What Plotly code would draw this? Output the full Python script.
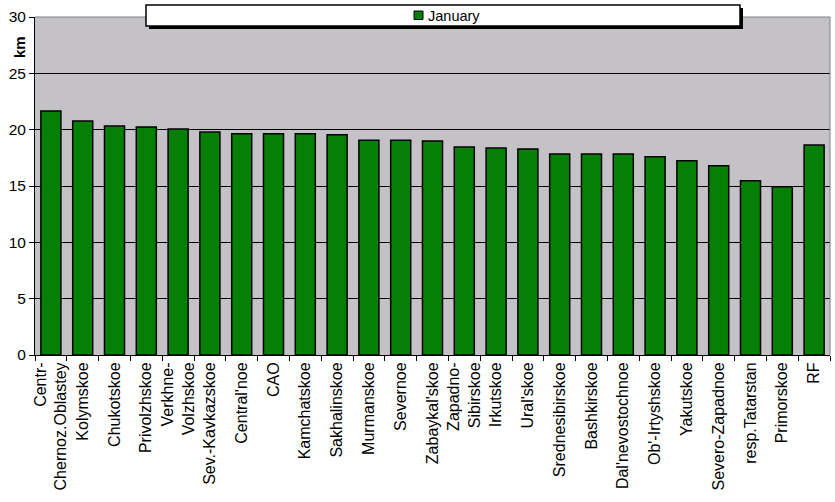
import plotly.graph_objects as go

categories = [
    "Centr-<br>Chernoz.Oblastey", "Kolymskoe", "Chukotskoe", "Privolzhskoe",
    "Verkhne-<br>Volzhskoe", "Sev.-Kavkazskoe", "Central'noe", "CAO",
    "Kamchatskoe", "Sakhalinskoe", "Murmanskoe", "Severnoe", "Zabaykal'skoe",
    "Zapadno-<br>Sibirskoe", "Irkutskoe", "Ural'skoe", "Srednesibirskoe",
    "Bashkirskoe", "Dal'nevostochnoe", "Ob'-Irtyshskoe", "Yakutskoe",
    "Severo-Zapadnoe", "resp.Tatarstan", "Primorskoe", "RF",
]
january = [
    21.66, 20.77, 20.32, 20.23, 20.05, 19.79, 19.64, 19.64, 19.64, 19.55,
    19.07, 19.07, 18.99, 18.46, 18.37, 18.28, 17.84, 17.84, 17.84, 17.60,
    17.24, 16.80, 15.46, 14.93, 18.64,
]
y_ticks = [0, 5, 10, 15, 20, 25, 30]

W, H = 835, 502
L, R, T, B = 35, 5, 17, 147
PW, PH = W - L - R, H - T - B


def px_x(p):
    return (p - L) / PW


def px_y(p):
    return (H - B - p) / PH


FONT = "Liberation Sans, Arial, sans-serif"
GREEN = "#057F05"

fig = go.Figure()
fig.add_trace(go.Bar(
    x=categories, y=january, name="January",
    marker=dict(color=GREEN, line=dict(color="black", width=1.5)),
    showlegend=False,
))

shapes = [
    dict(type="line", xref="paper", yref="paper", x0=0, x1=1, y0=1, y1=1,
         line=dict(color="#808080", width=1), layer="above"),
    dict(type="line", xref="paper", yref="paper", x0=1, x1=1, y0=0, y1=1,
         line=dict(color="#808080", width=1), layer="above"),
    dict(type="rect", xref="paper", yref="paper",
         x0=px_x(149), x1=px_x(743), y0=px_y(29), y1=px_y(8),
         fillcolor="black", line=dict(width=0), layer="above"),
    dict(type="rect", xref="paper", yref="paper",
         x0=px_x(146), x1=px_x(740), y0=px_y(26), y1=px_y(5),
         fillcolor="white", line=dict(color="black", width=1.5), layer="above"),
    dict(type="rect", xref="paper", yref="paper",
         x0=px_x(414), x1=px_x(423), y0=px_y(19.5), y1=px_y(11),
         fillcolor=GREEN, line=dict(color="black", width=1), layer="above"),
]

annotations = [
    dict(text="January", xref="paper", yref="paper", x=px_x(426), y=px_y(15.5),
         xanchor="left", yanchor="middle", showarrow=False,
         font=dict(family=FONT, size=14.5, color="black")),
    dict(text="<b>km</b>", xref="paper", yref="paper", x=px_x(19), y=px_y(47),
         xanchor="center", yanchor="middle", showarrow=False, textangle=-90,
         font=dict(family=FONT, size=15, color="black")),
]

fig.update_layout(
    width=W, height=H,
    margin=dict(l=L, r=R, t=T, b=B, pad=0),
    paper_bgcolor="white",
    plot_bgcolor="#C4C2C6",
    bargap=0.37,
    font=dict(family=FONT, size=15, color="black"),
    shapes=shapes,
    annotations=annotations,
    xaxis=dict(
        type="category", tickangle=-90, ticks="outside", tickson="boundaries",
        ticklen=5, tickcolor="black", showline=True, linecolor="black",
        linewidth=1, showgrid=False, tickfont=dict(size=16), fixedrange=True,
    ),
    yaxis=dict(
        range=[0, 30], tickvals=y_ticks, ticks="outside", ticklen=5,
        tickcolor="black", showline=True, linecolor="black", linewidth=1,
        showgrid=True, gridcolor="black", gridwidth=1, zeroline=False,
        tickfont=dict(size=15.5),
    ),
)

fig.write_html("out.html")
